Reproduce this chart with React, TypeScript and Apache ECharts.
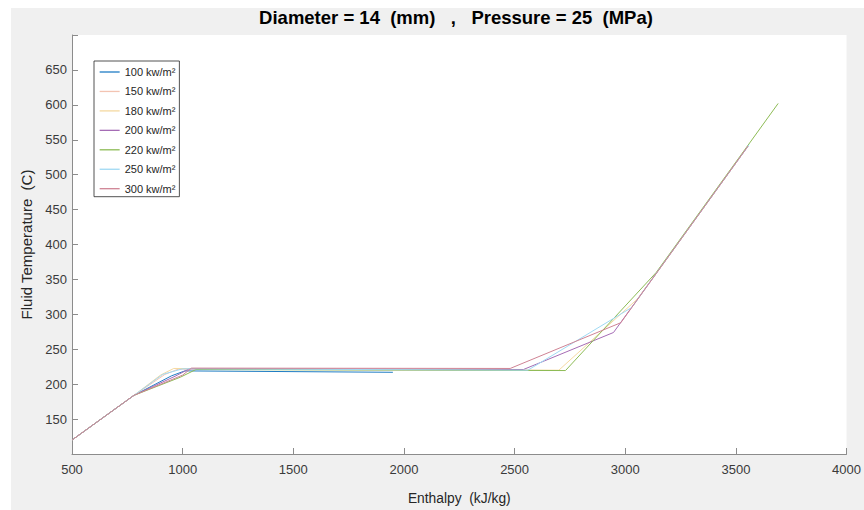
import React, { useEffect, useRef } from 'react';
import * as echarts from 'echarts';

const seriesNames = ['100 kw/m²', '150 kw/m²', '180 kw/m²', '200 kw/m²', '220 kw/m²', '250 kw/m²', '300 kw/m²'];
const seriesColors = ['#1f7cc4', '#f3c4b2', '#f5d9a0', '#a56cb5', '#8dbb55', '#9fd9f3', '#cf8394'];

const h100 = [500, 780, 950, 1010, 1950];
const t100 = [120, 184, 212, 219, 217];
const h150 = [500, 780, 920, 980, 2660];
const t150 = [120, 184, 214, 221.5, 219.5];
const h180 = [500, 780, 900, 960, 2700, 3055, 3150, 3555];
const t180 = [120, 184, 213, 222.5, 220, 322, 363, 541];
const h200 = [500, 780, 970, 1030, 2540, 2947, 3555];
const t200 = [120, 184, 212, 222, 221, 274, 541];
const h220 = [500, 780, 990, 1060, 2730, 3140, 3691];
const t220 = [120, 184, 210, 221, 219.5, 360, 602];
const h250 = [500, 780, 910, 1000, 2560, 3030, 3150, 3560];
const t250 = [120, 184, 214, 222, 220, 310, 363, 543];
const h300 = [500, 780, 1000, 1040, 2480, 2980, 3555];
const t300 = [120, 184, 213, 223, 222.5, 288, 541];

const enthalpies = [h100, h150, h180, h200, h220, h250, h300];
const temperatures = [t100, t150, t180, t200, t220, t250, t300];

const titleText = 'Diameter = 14  (mm)   ,   Pressure = 25  (MPa)';
const xName = 'Enthalpy  (kJ/kg)';
const yName = 'Fluid Temperature  (C)';

const FONT = 'Liberation Sans, Arial, sans-serif';

export default function App() {
  const ref = useRef<HTMLDivElement>(null);
  useEffect(() => {
    if (!ref.current) return;
    const chart = echarts.init(ref.current, undefined, { renderer: 'svg' });
    const series = seriesNames.map((name, i) => ({
      name,
      type: 'line',
      data: enthalpies[i].map((h, j) => [h, temperatures[i][j]]),
      symbol: 'none',
      showSymbol: false,
      lineStyle: { color: seriesColors[i], width: 1 },
      itemStyle: { color: seriesColors[i] },
      z: 2 + i,
    }));
    chart.setOption({
      animation: false,
      backgroundColor: '#f0f0f0',
      textStyle: { fontFamily: FONT },
      graphic: [
        {
          type: 'text',
          x: 445,
          y: 9,
          style: {
            text: titleText,
            fontSize: 18.5,
            fontWeight: 'bold',
            fontFamily: FONT,
            fill: '#000',
            align: 'center',
            verticalAlign: 'middle',
          },
        },
      ],
      grid: {
        left: 55.7,
        top: 27,
        right: 0,
        bottom: 54.6,
        show: true,
        backgroundColor: '#ffffff',
        borderWidth: 0,
      },
      legend: {
        orient: 'vertical',
        left: 83,
        top: 53,
        backgroundColor: '#ffffff',
        borderColor: '#262626',
        borderWidth: 0.8,
        borderRadius: 0,
        padding: [5, 4, 2, 5],
        itemWidth: 20,
        itemHeight: 12,
        itemGap: 7.45,
        itemStyle: { opacity: 0 },
        lineStyle: { width: 1.3 },
        textStyle: { fontSize: 11, color: '#262626', fontFamily: FONT, lineHeight: 12 },
        data: seriesNames,
      },
      xAxis: {
        type: 'value',
        min: 500,
        max: 4000,
        interval: 500,
        name: xName,
        nameLocation: 'middle',
        nameGap: 37,
        nameTextStyle: { fontSize: 13.8, color: '#262626', fontFamily: FONT },
        axisLine: { show: true, lineStyle: { color: '#8c8c8c', width: 1 } },
        axisTick: { show: true, inside: true, length: 6, lineStyle: { color: '#8c8c8c' } },
        axisLabel: {
          fontSize: 13,
          color: '#3a3a3a',
          margin: 9,
          fontFamily: FONT,
          formatter: (v: number) => String(v),
        },
        splitLine: { show: false },
      },
      yAxis: {
        type: 'value',
        min: 100,
        max: 700,
        interval: 50,
        name: yName,
        nameLocation: 'middle',
        nameGap: 38,
        nameTextStyle: { fontSize: 15, color: '#262626', fontFamily: FONT },
        axisLine: { show: true, lineStyle: { color: '#8c8c8c', width: 1 } },
        axisTick: { show: true, inside: true, length: 6, lineStyle: { color: '#8c8c8c' } },
        axisLabel: {
          fontSize: 13,
          color: '#3a3a3a',
          margin: 5,
          fontFamily: FONT,
          formatter: (v: number) => (v === 100 || v === 700 ? '' : String(v)),
        },
        splitLine: { show: false },
      },
      series,
    });
    return () => chart.dispose();
  }, []);
  return (
    <div style={{ position: 'fixed', left: 0, top: 0, width: 864, height: 510, background: '#ffffff' }}>
      <div ref={ref} style={{ position: 'absolute', left: 11, top: 8, width: 853, height: 502 }} />
    </div>
  );
}
